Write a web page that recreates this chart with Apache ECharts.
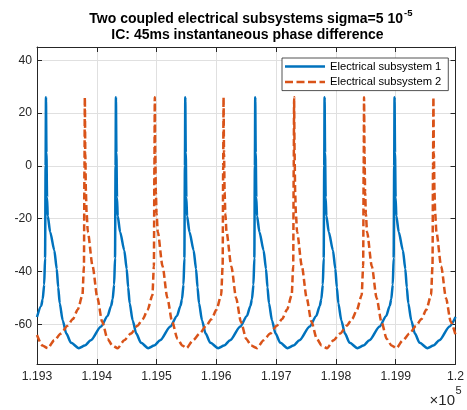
<!DOCTYPE html>
<html>
<head>
<meta charset="utf-8">
<script src="https://cdn.jsdelivr.net/npm/echarts@6/dist/echarts.min.js"></script>
<style>
  html, body { margin: 0; padding: 0; background: #ffffff; }
  #chart { width: 467px; height: 410px; }
</style>
</head>
<body>
<div id="chart"></div>
<script>
// Membrane potential traces [time, value] of the two coupled subsystems
const subsystem1 = [
  [119300, -57.2], [119307, -53], [119309.5, -50.5], [119312, -45], [119313.5, -35], [119314.4, 0], [119315, 26],
  [119315.8, 5], [119316.8, -12], [119318, -19], [119322, -25], [119329, -32], [119333, -39],
  [119335.5, -46], [119338, -52], [119343, -58.5], [119349, -63.5], [119357, -67],
  [119370, -69], [119380, -68], [119390, -66], [119407, -60.8], [119418, -56.8], [119424, -53],
  [119426.5, -50.5], [119429, -45], [119430.5, -35], [119431.4, 0], [119432, 26],
  [119432.8, 5], [119433.8, -12], [119435, -19], [119439, -25], [119446, -32], [119450, -39],
  [119452.5, -46], [119455, -52], [119460, -58.5], [119466, -63.5], [119474, -67],
  [119486, -69], [119496, -68], [119506, -66], [119523, -60.8], [119534, -56.8], [119540, -53],
  [119542.5, -50.5], [119545, -45], [119546.5, -35], [119547.4, 0], [119548, 26],
  [119548.8, 5], [119549.8, -12], [119551, -19], [119555, -25], [119562, -32], [119566, -39],
  [119568.5, -46], [119571, -52], [119576, -58.5], [119582, -63.5], [119590, -67],
  [119603, -69], [119613, -68], [119623, -66], [119640, -60.8], [119651, -56.8], [119657, -53],
  [119659.5, -50.5], [119662, -45], [119663.5, -35], [119664.4, 0], [119665, 26],
  [119665.8, 5], [119666.8, -12], [119668, -19], [119672, -25], [119679, -32], [119683, -39],
  [119685.5, -46], [119688, -52], [119693, -58.5], [119699, -63.5], [119707, -67],
  [119719, -69], [119729, -68], [119739, -66], [119756, -60.8], [119767, -56.8], [119773, -53],
  [119775.5, -50.5], [119778, -45], [119779.5, -35], [119780.4, 0], [119781, 26],
  [119781.8, 5], [119782.8, -12], [119784, -19], [119788, -25], [119795, -32], [119799, -39],
  [119801.5, -46], [119804, -52], [119809, -58.5], [119815, -63.5], [119823, -67],
  [119836, -69], [119846, -68], [119856, -66], [119873, -60.8], [119884, -56.8], [119890, -53],
  [119892.5, -50.5], [119895, -45], [119896.5, -35], [119897.4, 0], [119898, 26],
  [119898.8, 5], [119899.8, -12], [119901, -19], [119905, -25], [119912, -32], [119916, -39],
  [119918.5, -46], [119921, -52], [119926, -58.5], [119932, -63.5], [119940, -67],
  [119953, -69], [119963, -68], [119973, -66], [119990, -60.8], [120000, -57.2]
];

const subsystem2 = [
  [119300, -64], [119309, -68],
  [119318, -69], [119329, -66], [119340, -63.5], [119351, -60.5], [119360, -58], [119368, -54.5],
  [119376, -49], [119378.5, -38], [119379.4, 0], [119380, 26],
  [119380.8, 5], [119381.8, -10], [119383, -18], [119385, -25], [119393, -38], [119401, -50],
  [119409, -59], [119418, -65.5], [119426, -68],
  [119435, -69], [119446, -66], [119457, -63.5], [119468, -60.5], [119477, -58], [119485, -54.5],
  [119493, -49], [119495.5, -38], [119496.4, 0], [119497, 26],
  [119497.8, 5], [119498.8, -10], [119500, -18], [119502, -25], [119510, -38], [119518, -50],
  [119526, -59], [119535, -65.5], [119543, -68],
  [119550, -69], [119561, -66], [119572, -63.5], [119583, -60.5], [119592, -58], [119600, -54.5],
  [119608, -49], [119610.5, -38], [119611.4, 0], [119612, 26],
  [119612.8, 5], [119613.8, -10], [119615, -18], [119617, -25], [119625, -38], [119633, -50],
  [119641, -59], [119650, -65.5], [119658, -68],
  [119668, -69], [119679, -66], [119690, -63.5], [119701, -60.5], [119710, -58], [119718, -54.5],
  [119726, -49], [119728.5, -38], [119729.4, 0], [119730, 26],
  [119730.8, 5], [119731.8, -10], [119733, -18], [119735, -25], [119743, -38], [119751, -50],
  [119759, -59], [119768, -65.5], [119776, -68],
  [119785, -69], [119796, -66], [119807, -63.5], [119818, -60.5], [119827, -58], [119835, -54.5],
  [119843, -49], [119845.5, -38], [119846.4, 0], [119847, 26],
  [119847.8, 5], [119848.8, -10], [119850, -18], [119852, -25], [119860, -38], [119868, -50],
  [119876, -59], [119885, -65.5], [119893, -68],
  [119901, -69], [119912, -66], [119923, -63.5], [119934, -60.5], [119943, -58], [119951, -54.5],
  [119959, -49], [119961.5, -38], [119962.4, 0], [119963, 26],
  [119963.8, 5], [119964.8, -10], [119966, -18], [119968, -25], [119976, -38], [119984, -50],
  [119992, -59], [120000, -64]
];

const seriesNames = ['Electrical subsystem 1', 'Electrical subsystem 2'];
const yTicks = [-60, -40, -20, 0, 20, 40];
const xRange = [119300, 120000];
const yRange = [-75, 45];
const titleLine1 = 'Two coupled electrical subsystems sigma=5 10';
const titleLine1Sup = '-5';
const titleLine2 = 'IC: 45ms instantaneous phase difference';

const FONT = '"Liberation Sans", Arial, Helvetica, sans-serif';
const AX = '#262626';
const GRID = '#e0e0e0';
const C1 = '#0072BD';
const C2 = '#D95319';

// legend keys: a solid bar and a dashed bar
const ICON_SOLID = 'path://M0,0h40v2.5h-40z';
const ICON_DASHED = 'path://M0,0h8v2.5h-8z M11.5,0h8v2.5h-8z M23,0h8v2.5h-8z M34.5,0h5.5v2.5h-5.5z';

const chart = echarts.init(document.getElementById('chart'), null, { renderer: 'canvas' });

const xBase = {
  type: 'value', min: xRange[0], max: xRange[1], interval: 100,
  axisLine: { show: true, onZero: false, lineStyle: { color: AX, width: 1 } },
  axisTick: { show: true, inside: true, length: 5, lineStyle: { color: AX } }
};
const yBase = {
  type: 'value', min: yRange[0], max: yRange[1],
  axisLine: { show: true, onZero: false, lineStyle: { color: AX, width: 1 } },
  axisTick: { show: true, inside: true, length: 5, customValues: yTicks, lineStyle: { color: AX } }
};

// plain text piece placed at (x, y), vertically centred
function label(text, x, y, size, weight, align) {
  return {
    type: 'text', x: x, y: y, silent: true,
    style: {
      text: text, fill: weight === 'bold' ? '#000' : AX,
      font: (weight === 'bold' ? 'bold ' : '') + size + 'px ' + FONT,
      align: align, verticalAlign: 'middle',
      textAlign: align, textVerticalAlign: 'middle'
    }
  };
}

chart.setOption({
  animation: false,
  backgroundColor: '#ffffff',
  legend: {
    orient: 'vertical', left: 282, top: 58,
    padding: [3, 7, 3, 3], itemGap: 4.6, itemWidth: 40, itemHeight: 12,
    backgroundColor: '#ffffff', borderColor: AX, borderWidth: 0.8, borderRadius: 0,
    textStyle: { fontFamily: FONT, fontSize: 11.2, color: '#000' },
    data: [
      { name: seriesNames[0], icon: ICON_SOLID, itemStyle: { color: C1 } },
      { name: seriesNames[1], icon: ICON_DASHED, itemStyle: { color: C2 } }
    ]
  },
  grid: { left: 37, right: 10, top: 47, bottom: 46, containLabel: false },
  xAxis: [
    Object.assign({}, xBase, {
      position: 'bottom',
      axisLabel: {
        show: true, margin: 7, color: AX, fontFamily: FONT, fontSize: 12.2,
        formatter: v => { const s = (v / 1e5).toFixed(3); return s === '1.200' ? '1.2' : s; }
      },
      splitLine: { show: true, lineStyle: { color: GRID, width: 1 } }
    }),
    Object.assign({}, xBase, {
      position: 'top', axisLabel: { show: false }, splitLine: { show: false }
    })
  ],
  yAxis: [
    Object.assign({}, yBase, {
      position: 'left',
      axisLabel: { show: true, margin: 5, color: AX, fontFamily: FONT, fontSize: 12.2, customValues: yTicks },
      splitLine: { show: true, lineStyle: { color: GRID, width: 1 } }
    }),
    Object.assign({}, yBase, {
      position: 'right', axisLabel: { show: false }, splitLine: { show: false }
    })
  ],
  graphic: [
    label(titleLine1, 403, 19.5, 14, 'bold', 'right'),
    label(titleLine1Sup, 404, 13.3, 9.5, 'bold', 'left'),
    label(titleLine2, 247.5, 35.5, 14, 'bold', 'center'),
    label('\u00d710', 455, 401.3, 15, 'normal', 'right'),
    label('5', 455.5, 391, 11, 'normal', 'left')
  ],
  series: [
    {
      name: seriesNames[0], type: 'line', data: subsystem1, xAxisIndex: 0, yAxisIndex: 0,
      showSymbol: false, symbol: 'none', smooth: 0.25, smoothMonotone: 'x', clip: true,
      lineStyle: { color: C1, width: 2.5 }, itemStyle: { color: C1 }
    },
    {
      name: seriesNames[1], type: 'line', data: subsystem2, xAxisIndex: 0, yAxisIndex: 0,
      showSymbol: false, symbol: 'none', smooth: 0.25, smoothMonotone: 'x', clip: true,
      lineStyle: { color: C2, width: 2.5, type: [7, 3.5] }, itemStyle: { color: C2 }
    }
  ]
});
</script>
</body>
</html>
